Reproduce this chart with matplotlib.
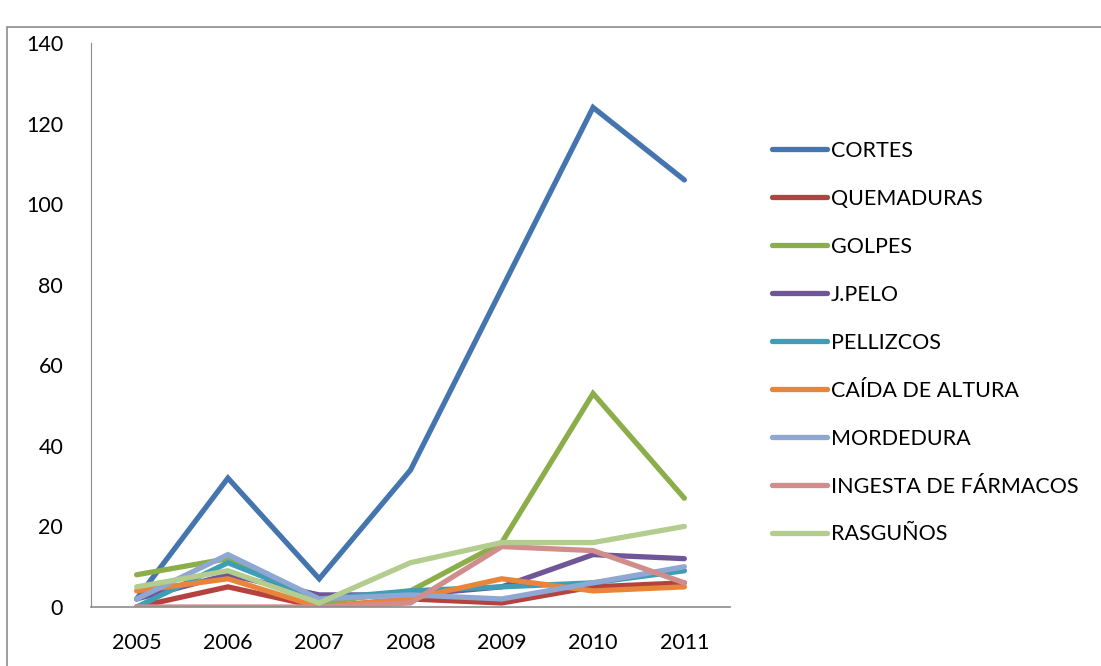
import matplotlib.pyplot as plt
from matplotlib.patches import Rectangle

# years on the x axis
years = ["2005", "2006", "2007", "2008", "2009", "2010", "2011"]

# one list per kind of injury
cortes      = [2, 32, 7, 34, 79, 124, 106]
quemaduras  = [0, 5, 0, 2, 1, 5, 6]
golpes      = [8, 12, 1, 4, 16, 53, 27]
jpelo       = [2, 8, 3, 3, 5, 13, 12]
pellizcos   = [0, 11, 2, 4, 5, 6, 9]
caida       = [4, 7, 0, 2, 7, 4, 5]
mordedura   = [2, 13, 2, 3, 2, 6, 10]
ingesta     = [0, 0, 0, 1, 15, 14, 6]
rasgunos    = [5, 9, 1, 11, 16, 16, 20]

names = ["CORTES", "QUEMADURAS", "GOLPES", "J.PELO", "PELLIZCOS",
         "CAÍDA DE ALTURA", "MORDEDURA", "INGESTA DE FÁRMACOS", "RASGUÑOS"]
series = [cortes, quemaduras, golpes, jpelo, pellizcos,
          caida, mordedura, ingesta, rasgunos]
colors = ["#4575AE", "#B5423F", "#8BAE4A", "#705696", "#3F9DB6",
          "#E9853A", "#8EA7D3", "#D18D8C", "#B2CD8E"]

plt.rcParams['font.family'] = ['Lato', 'DejaVu Sans']
FS = 15.5

fig = plt.figure(figsize=(11.01, 6.66), dpi=100)
# outer chart frame (Excel style)
fig.patches.append(Rectangle((7 / 1101, -0.1), 1.2, 1.1 - 27 / 666,
                             transform=fig.transFigure, fill=False,
                             edgecolor="#8C8C8C", linewidth=1.2))

ax = fig.add_axes([91 / 1101, 1 - 607 / 666, (730 - 91) / 1101, (607 - 43) / 666])
x = list(range(len(years)))
for name, vals, c in zip(names, series, colors):
    ax.plot(x, vals, color=c, linewidth=3.8, label=name,
            solid_capstyle='round', solid_joinstyle='miter')

ax.set_xlim(-0.5, 6.5)
ax.set_ylim(0, 140)
ax.set_yticks(range(0, 141, 20))
ax.set_xticks(x)
ax.set_xticklabels(years)
ax.tick_params(axis='y', length=0, pad=20, labelsize=FS)
ax.tick_params(axis='x', length=0, pad=19, labelsize=FS)
for s in ["top", "right"]:
    ax.spines[s].set_visible(False)
ax.spines["left"].set_color("#8C8C8C")
ax.spines["bottom"].set_color("#8C8C8C")
ax.spines["bottom"].set_linewidth(1.2)

leg = ax.legend(loc="upper left", bbox_to_anchor=(763 / 1101, 1 - 132 / 666),
                bbox_transform=fig.transFigure, frameon=False, fontsize=FS,
                handlelength=2.55, handletextpad=0.2, labelspacing=1.3,
                borderaxespad=0)

fig.savefig("out.png", dpi=100)
